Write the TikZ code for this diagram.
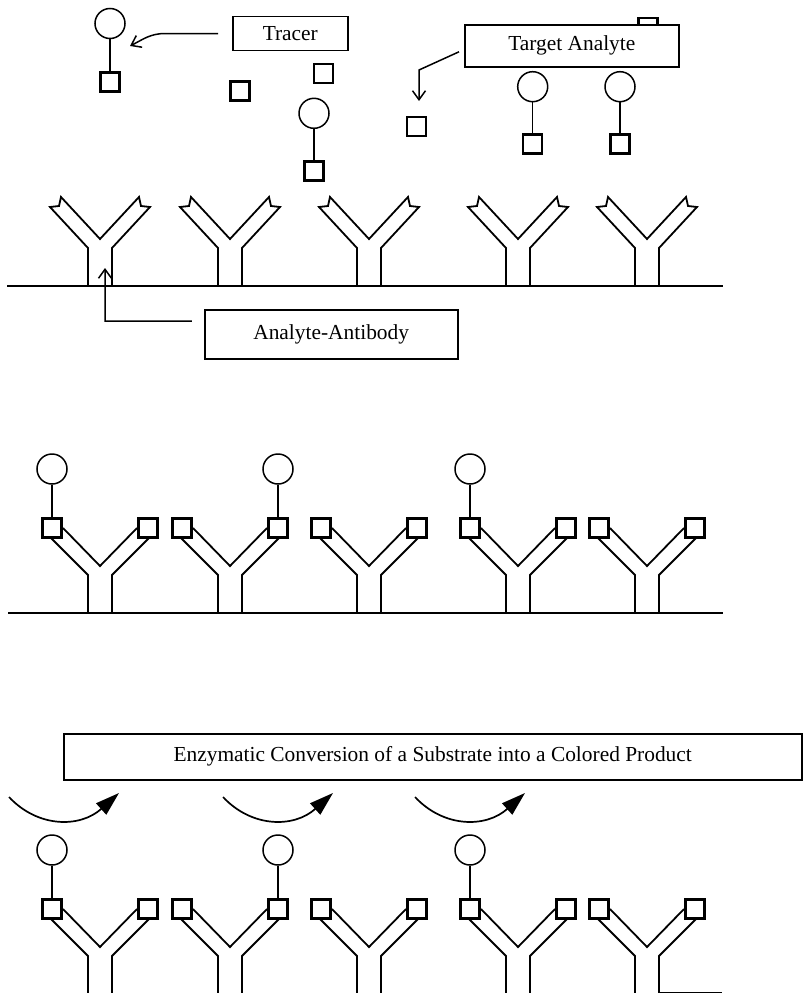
\documentclass[tikz,border=0pt]{standalone}
\usepackage{fontspec}
\setmainfont{Liberation Serif}
\usetikzlibrary{arrows.meta}
\newcommand\lbfont{\fontsize{21.4}{25}\selectfont}
\tikzset{
 ab/.style={line width=1.8pt, line join=miter},
 sq/.style={draw, line width=2.4pt, minimum size=19pt, inner sep=0pt, fill=white},
 circ/.style={draw, circle, line width=1.5pt, minimum size=30pt, inner sep=0pt},
 lbl/.style={draw, line width=1.6pt, fill=white, inner sep=0pt, font=\lbfont},
 link/.style={line width=1.4pt},
 arr/.style={line width=1.5pt, -{Straight Barb[length=9pt,width=13pt]}},
 curv/.style={line width=1.7pt, -{Triangle[length=24pt,width=15pt]}},
 base/.style={line width=2.4pt},
}
\newcommand\abNotch[2]{\draw[ab] (#1-12,#2) -- (#1-12,#2-38) -- (#1-50,#2-79) -- (#1-41,#2-80) -- (#1-39,#2-89) -- (#1,#2-47) -- (#1+39,#2-89) -- (#1+41,#2-80) -- (#1+50,#2-79) -- (#1+12,#2-38) -- (#1+12,#2);}
\newcommand\abSq[3]{%
 \node[sq] (#3L) at (#1-48,#2-85) {};
 \node[sq] (#3R) at (#1+48,#2-85) {};
 \draw[ab] (#1-12,#2) -- (#1-12,#2-38) -- (#1-49,#2-75);
 \draw[ab] (#1-37,#2-85) -- (#1,#2-47) -- (#1+37,#2-85);
 \draw[ab] (#1+49,#2-75) -- (#1+12,#2-38) -- (#1+12,#2);}
\begin{document}
\begin{tikzpicture}[x=1pt,y=-1pt]
\useasboundingbox (0,0) rectangle (803,993);
% ---------- top section ----------
\node[circ] (tc1) at (110,23.5) {};
\node[sq] (ts1) at (110,82) {};
\draw[link] (tc1) -- (ts1);
\node[sq] (fs1) at (240,91) {};
\node[sq] (fs2) at (323.5,73.3) {};
\node[circ] (tc2) at (314,113.3) {};
\node[sq] (ts2) at (314,171) {};
\draw[link] (tc2) -- (ts2);
\node[sq] (fs3) at (416.7,126.3) {};
\node[circ] (ac1) at (532.7,86.7) {};
\node[sq] (as1) at (532.7,144) {};
\draw[link] (ac1) -- (as1);
\node[circ] (ac2) at (620,86.7) {};
\node[sq] (as2) at (620,144) {};
\draw[link] (ac2) -- (as2);
\node[sq] (hs) at (648,27.2) {};
\node[lbl, minimum width=115pt, minimum height=34pt] (tracer) at (290.3,33.5) {Tracer};
\node[lbl, minimum width=214pt, minimum height=42pt] (target) at (571.8,45.8) {Target Analyte};
\draw[arr] ([xshift=-14pt]tracer.west) -- (165,33.5) .. controls (150,33.5) and (142,40) .. (130,46);
\draw[arr] ([xshift=-5pt,yshift=-6pt]target.west) -- (419,70) -- (419,101);
% ---------- row 1 ----------
\draw[base] (7,286) -- (723,286);
\foreach \c in {100,230,369,518,647} {\abNotch{\c}{286}}
\node[lbl, minimum width=253pt, minimum height=49pt] (analyte) at (331.2,334.2) {Analyte-Antibody};
\draw[arr] ([xshift=-12pt,yshift=13pt]analyte.west) -- (105,321) -- (105,268);
% ---------- row 2 ----------
\draw[base] (8,613) -- (723,613);
\foreach \c [count=\i] in {100,230,369,518,647} {\abSq{\c}{613}{r2a\i}}
\node[circ] (r2c1) at ([yshift=59pt]r2a1L) {};
\node[circ] (r2c2) at ([yshift=59pt]r2a2R) {};
\node[circ] (r2c4) at ([yshift=59pt]r2a4L) {};
\draw[link] (r2c1) -- (r2a1L);
\draw[link] (r2c2) -- (r2a2R);
\draw[link] (r2c4) -- (r2a4L);
% ---------- row 3 ----------
\node[lbl, minimum width=738pt, minimum height=46pt] (enz) at (432.7,756.7) {Enzymatic Conversion of a Substrate into a Colored Product};
\foreach \o [count=\i] in {0,214,406} {
  \coordinate (cs\i) at (9+\o,797);
  \coordinate (ce\i) at (119+\o,793);
  \draw[curv] (cs\i) .. controls (38+\o,828) and (80+\o,828) .. (ce\i);
}
\foreach \c [count=\i] in {100,230,369,518,647} {\abSq{\c}{994}{r3a\i}}
\node[circ] (r3c1) at ([yshift=59pt]r3a1L) {};
\node[circ] (r3c2) at ([yshift=59pt]r3a2R) {};
\node[circ] (r3c4) at ([yshift=59pt]r3a4L) {};
\draw[link] (r3c1) -- (r3a1L);
\draw[link] (r3c2) -- (r3a2R);
\draw[link] (r3c4) -- (r3a4L);
\draw[line width=1pt] (660,992.5) -- (722,992.5);
\end{tikzpicture}
\end{document}
